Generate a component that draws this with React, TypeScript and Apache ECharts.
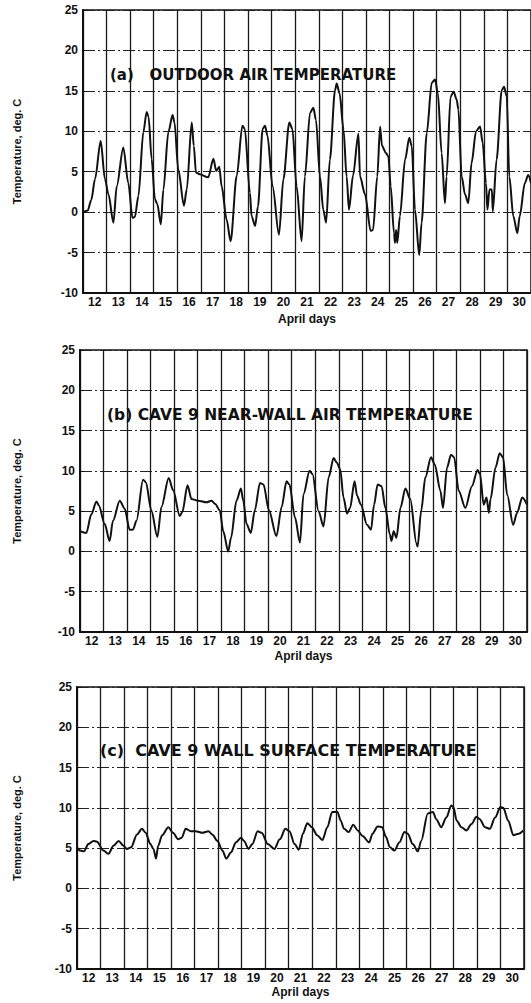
import React, { useEffect, useRef } from "react";
import * as echarts from "echarts";

const dayLabels = ["12", "13", "14", "15", "16", "17", "18", "19", "20", "21", "22", "23", "24", "25", "26", "27", "28", "29", "30"];

const titleA = "(a)   OUTDOOR AIR TEMPERATURE";
const titleB = "(b) CAVE 9 NEAR-WALL AIR TEMPERATURE";
const titleC = "(c)  CAVE 9 WALL SURFACE TEMPERATURE";
const xTitle = "April days";
const yTitle = "Temperature, deg. C";

const daysA = [12.0, 12.2, 12.35, 12.51, 12.75, 12.93, 13.08, 13.29, 13.43, 13.71, 13.92, 14.1, 14.2, 14.35, 14.56, 14.7, 14.78, 14.91, 15.05, 15.15, 15.3, 15.41, 15.62, 15.8, 15.88, 16.04, 16.28, 16.4, 16.61, 16.7, 16.79, 16.95, 17.31, 17.53, 17.65, 17.78, 17.88, 18.09, 18.26, 18.52, 18.76, 18.86, 19.08, 19.15, 19.3, 19.42, 19.62, 19.72, 19.82, 20.04, 20.31, 20.5, 20.75, 20.88, 21.06, 21.27, 21.41, 21.63, 21.77, 21.88, 22.05, 22.19, 22.31, 22.47, 22.69, 22.76, 22.88, 23.05, 23.18, 23.28, 23.45, 23.68, 23.75, 23.96, 24.2, 24.3, 24.48, 24.6, 24.68, 24.85, 24.95, 25.05, 25.19, 25.23, 25.28, 25.33, 25.44, 25.66, 25.84, 25.94, 26.08, 26.26, 26.36, 26.58, 26.79, 26.93, 27.05, 27.21, 27.35, 27.42, 27.59, 27.72, 27.85, 27.92, 28.06, 28.2, 28.34, 28.48, 28.67, 28.84, 28.95, 29.09, 29.15, 29.24, 29.34, 29.38, 29.54, 29.76, 29.86, 29.97, 30.08, 30.25, 30.42, 30.52, 30.74, 30.88, 31.0];
const tempsA = [0.0, 0.2, 1.5, 4.1, 8.8, 4.1, 2.2, -1.3, 3.2, 8.0, 3.6, -0.7, -0.6, 2.0, 9.9, 12.4, 11.8, 6.6, 1.6, 1.0, -1.5, 2.8, 9.9, 12.0, 11.1, 5.3, 0.8, 2.8, 11.1, 8.2, 4.9, 4.7, 4.3, 6.6, 5.1, 5.6, 3.2, -0.9, -3.6, 4.5, 10.7, 10.3, 2.4, -0.5, -1.7, 0.7, 10.3, 10.7, 9.5, 3.2, -2.8, 4.1, 11.1, 10.3, 3.2, -3.6, 4.4, 12.3, 12.9, 11.4, 4.4, 0.3, -1.3, 6.5, 15.1, 15.9, 14.7, 10.2, 4.4, 0.3, 4.5, 9.7, 4.4, 2.2, -2.3, -2.2, 4.4, 10.6, 8.2, 7.3, 6.9, 3.2, -2.6, -3.8, -2.2, -3.8, -0.5, 6.5, 9.2, 8.2, 0.3, -5.3, -1.3, 9.8, 16.0, 16.4, 14.7, 7.3, 1.1, 4.4, 14.3, 14.9, 13.9, 12.7, 4.4, 2.2, 1.1, 6.1, 10.0, 10.6, 8.6, 3.6, 0.3, 2.8, 2.8, 0.1, 6.5, 15.1, 15.5, 14.3, 4.4, -0.5, -2.6, -0.5, 3.6, 4.6, 3.6];

const daysB = [12.0, 12.27, 12.48, 12.7, 12.8, 13.05, 13.26, 13.4, 13.69, 13.9, 14.11, 14.25, 14.4, 14.68, 14.8, 15.03, 15.29, 15.46, 15.77, 15.96, 16.24, 16.35, 16.57, 16.74, 17.02, 17.38, 17.59, 17.75, 17.94, 18.09, 18.3, 18.42, 18.65, 18.84, 18.94, 19.08, 19.26, 19.43, 19.65, 19.8, 20.03, 20.35, 20.57, 20.78, 20.9, 21.14, 21.35, 21.5, 21.76, 21.88, 22.14, 22.35, 22.57, 22.78, 22.92, 23.06, 23.2, 23.35, 23.48, 23.67, 23.78, 23.94, 24.2, 24.37, 24.5, 24.65, 24.82, 24.98, 25.17, 25.24, 25.33, 25.45, 25.62, 25.83, 26.04, 26.3, 26.35, 26.5, 26.68, 26.92, 27.08, 27.32, 27.43, 27.6, 27.77, 27.9, 28.1, 28.38, 28.66, 28.9, 29.0, 29.16, 29.28, 29.38, 29.45, 29.66, 29.84, 29.98, 30.16, 30.41, 30.58, 30.8, 31.0];
const tempsB = [2.5, 2.3, 4.6, 6.2, 5.7, 3.4, 1.3, 3.8, 6.3, 5.3, 2.7, 2.7, 3.8, 8.9, 8.6, 5.1, 1.8, 5.5, 9.1, 7.6, 4.4, 4.9, 8.2, 6.5, 6.3, 6.1, 6.3, 5.9, 5.1, 2.5, 0.0, 1.7, 6.3, 7.8, 6.3, 3.4, 2.3, 5.1, 8.5, 8.3, 5.1, 1.9, 5.5, 8.7, 8.3, 4.2, 1.1, 7.1, 10.0, 9.6, 5.0, 3.1, 9.2, 11.6, 11.0, 10.2, 6.7, 4.7, 5.4, 8.7, 6.9, 5.8, 3.3, 2.7, 5.8, 8.3, 8.1, 5.4, 2.1, 1.3, 2.5, 1.7, 5.4, 7.8, 6.5, 1.0, 0.6, 5.0, 9.2, 11.7, 10.8, 7.5, 5.4, 10.4, 12.0, 11.7, 7.5, 5.4, 8.1, 10.1, 9.6, 5.8, 6.7, 4.8, 6.5, 10.4, 12.2, 11.7, 7.0, 3.3, 4.8, 6.7, 5.8];

const daysC = [12.0, 12.13, 12.3, 12.48, 12.7, 12.85, 13.12, 13.34, 13.55, 13.77, 13.98, 14.12, 14.3, 14.55, 14.76, 14.92, 15.12, 15.25, 15.36, 15.45, 15.62, 15.88, 16.08, 16.3, 16.45, 16.62, 16.84, 17.04, 17.33, 17.59, 17.75, 17.97, 18.18, 18.35, 18.55, 18.75, 18.97, 19.1, 19.29, 19.45, 19.68, 19.85, 20.11, 20.39, 20.62, 20.86, 21.03, 21.25, 21.43, 21.6, 21.79, 21.98, 22.21, 22.43, 22.64, 22.85, 23.07, 23.21, 23.35, 23.55, 23.74, 23.93, 24.14, 24.42, 24.56, 24.78, 24.97, 25.13, 25.3, 25.49, 25.7, 25.92, 26.06, 26.27, 26.49, 26.63, 26.91, 27.13, 27.27, 27.48, 27.7, 27.91, 28.0, 28.14, 28.34, 28.55, 28.77, 28.98, 29.12, 29.34, 29.55, 29.77, 30.0, 30.12, 30.33, 30.55, 30.77, 30.97];
const tempsC = [5.1, 4.7, 4.6, 5.5, 5.9, 5.8, 4.7, 4.3, 5.3, 5.9, 5.3, 4.9, 5.1, 6.7, 7.4, 6.9, 5.5, 4.9, 3.7, 5.3, 6.6, 7.6, 6.9, 6.1, 6.3, 7.4, 7.1, 7.1, 6.9, 7.1, 6.7, 5.9, 4.7, 3.7, 4.5, 5.7, 6.3, 5.9, 4.9, 5.5, 7.1, 6.9, 5.5, 4.9, 6.1, 7.4, 7.1, 5.5, 4.8, 6.8, 8.1, 7.6, 6.6, 6.0, 7.6, 9.5, 9.5, 8.4, 7.4, 7.0, 7.9, 7.2, 6.5, 5.7, 6.8, 7.7, 7.6, 6.4, 5.1, 4.7, 5.7, 7.0, 6.8, 5.5, 4.6, 5.9, 9.3, 9.5, 8.6, 7.6, 8.8, 10.3, 10.1, 8.4, 7.6, 7.2, 8.0, 8.9, 8.6, 7.6, 7.4, 8.8, 10.1, 10.0, 8.4, 6.6, 6.8, 7.2];

const FONT = "'Liberation Sans', Arial, sans-serif";
const TITLE_FONT = "'DejaVu Sans', 'Liberation Sans', sans-serif";

export default function App() {
  const ref = useRef<HTMLDivElement>(null);
  useEffect(() => {
    document.body.style.margin = "0";
    const chart = echarts.init(ref.current!, null, { renderer: "svg" });
    const panels = [
      { left: 83, top: 10, width: 448, height: 283, days: daysA, temps: tempsA, title: titleA, tx: 110, ty: 75, tSize: 15, nameGap: 20 },
      { left: 80, top: 350, width: 447, height: 282, days: daysB, temps: tempsB, title: titleB, tx: 107, ty: 415, tSize: 15.5, nameGap: 18 },
      { left: 77, top: 687, width: 447, height: 282, days: daysC, temps: tempsC, title: titleC, tx: 100, ty: 750, tSize: 16, nameGap: 17 },
    ];
    const labelStyle = { fontFamily: FONT, fontWeight: "bold" as const, fontSize: 12, color: "#111" };
    const grid: any[] = [];
    const xAxis: any[] = [];
    const yAxis: any[] = [];
    const series: any[] = [];
    const graphic: any[] = [];
    panels.forEach((p, i) => {
      grid.push({ left: p.left, top: p.top, width: p.width, height: p.height, show: true, borderColor: "#111", borderWidth: 1.5, backgroundColor: "transparent" });
      xAxis.push({
        type: "category", gridIndex: i, data: dayLabels, boundaryGap: true, position: "bottom",
        name: xTitle, nameLocation: "middle", nameGap: p.nameGap,
        nameTextStyle: { fontFamily: FONT, fontWeight: "bold", fontSize: 12, color: "#111" },
        axisLine: { onZero: false, lineStyle: { color: "#111", width: 2 } },
        axisTick: { show: false },
        axisLabel: { ...labelStyle, margin: 3, interval: 0 },
        splitLine: { show: true, interval: 0, lineStyle: { color: "#1a1a1a", width: 1.3 } },
      });
      xAxis.push({ type: "value", gridIndex: i, min: 12, max: 31, show: false, splitLine: { show: false } });
      yAxis.push({
        type: "value", gridIndex: i, min: -10, max: 25, interval: 5,
        axisLine: { show: true, onZero: false, lineStyle: { color: "#111", width: 2 } },
        axisTick: { show: true, inside: true, length: 4, lineStyle: { color: "#111" } },
        axisLabel: { ...labelStyle, margin: 5 },
        splitLine: { show: true, lineStyle: { color: "#222", width: 1.2, type: [12, 3, 2, 3] } },
      });
      series.push({
        type: "line", xAxisIndex: i * 2 + 1, yAxisIndex: i,
        data: p.days.map((d, k) => [d, p.temps[k]]),
        showSymbol: false, smooth: 0.3, smoothMonotone: "x",
        lineStyle: { color: "#111", width: 2 },
      });
      graphic.push({
        type: "text", x: p.tx, y: p.ty,
        style: { text: p.title, fontFamily: TITLE_FONT, fontWeight: "bold", fontSize: p.tSize, fill: "#111", align: "left", verticalAlign: "middle" },
        z: 10,
      });
      graphic.push({
        type: "text", x: 17, y: p.top + p.height / 2, rotation: Math.PI / 2,
        style: { text: yTitle, fontFamily: FONT, fontWeight: "bold", fontSize: 11, fill: "#111", align: "center", verticalAlign: "middle" },
      });
    });
    chart.setOption({ animation: false, backgroundColor: "#fff", grid, xAxis, yAxis, series, graphic });
    return () => chart.dispose();
  }, []);
  return <div ref={ref} style={{ width: 531, height: 1003 }} />;
}
